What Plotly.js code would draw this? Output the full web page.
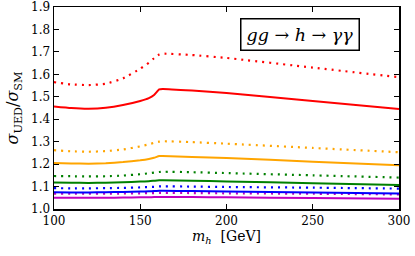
<!DOCTYPE html>
<html><head><meta charset="utf-8">
<script src="https://cdn.plot.ly/plotly-3.0.1.min.js"></script>
<style>html,body{margin:0;padding:0;background:#fff}#c{width:415px;height:256px}</style>
</head><body><div id="c"></div>
<script>
const mh = [100,110,120,130,140,150,155,158,161,163,180,200,250,300];
const redSolid  = [1.457,1.450,1.447,1.451,1.463,1.481,1.494,1.508,1.533,1.535,1.528,1.517,1.481,1.445];
const redDot    = [1.565,1.555,1.552,1.558,1.582,1.625,1.652,1.672,1.688,1.692,1.686,1.673,1.630,1.587];
const orSolid   = [1.205,1.203,1.202,1.204,1.209,1.217,1.223,1.228,1.236,1.236,1.232,1.227,1.211,1.195];
const orDot     = [1.262,1.257,1.255,1.258,1.265,1.279,1.288,1.295,1.300,1.302,1.298,1.291,1.272,1.253];
const grSolid   = [1.118,1.117,1.116,1.117,1.119,1.122,1.124,1.126,1.128,1.128,1.126,1.123,1.115,1.107];
const grDot     = [1.147,1.146,1.145,1.146,1.149,1.155,1.159,1.162,1.165,1.166,1.164,1.160,1.150,1.140];
const blSolid   = [1.075,1.074,1.074,1.075,1.076,1.078,1.079,1.080,1.081,1.081,1.080,1.078,1.074,1.069];
const blDot     = [1.093,1.092,1.092,1.093,1.094,1.096,1.098,1.099,1.101,1.101,1.100,1.098,1.095,1.091];
const pmSolid   = [1.050,1.050,1.050,1.050,1.051,1.052,1.052,1.053,1.053,1.053,1.053,1.052,1.049,1.046];
const pmDot     = [1.068,1.068,1.068,1.068,1.069,1.070,1.071,1.071,1.072,1.072,1.071,1.070,1.068,1.065];
const xTicks = [100,150,200,250,300];
const yTicks = [1.0,1.1,1.2,1.3,1.4,1.5,1.6,1.7,1.8,1.9];

const red='#ff0000', orange='#ffa500', green='#008000', blue='#0000ff', mag='#bf00bf';
const DOT='2px,5px';
function tr(y,c,dot){return {x:mh,y:y,mode:'lines',line:{color:c,width:dot?2.2:2,dash:dot?DOT:'solid',shape:'spline',smoothing:0.4},hoverinfo:'skip'};}
const data=[
 tr(pmSolid,mag,false),tr(pmDot,mag,true),
 tr(blSolid,blue,false),tr(blDot,blue,true),
 tr(grSolid,green,false),tr(grDot,green,true),
 tr(orSolid,orange,false),tr(orDot,orange,true),
 tr(redSolid,red,false),tr(redDot,red,true)
];
const FAM='DejaVu Serif';
const font={family:FAM,size:12,color:'#000'};
const layout={
 width:415,height:256,showlegend:false,
 margin:{l:54,r:16,t:7,b:47,pad:0},
 paper_bgcolor:'#fff',plot_bgcolor:'#fff',font:font,
 xaxis:{range:[100,300],tickvals:xTicks,ticktext:xTicks.map(String),ticks:'inside',ticklen:5,tickwidth:1,tickcolor:'#000',
   showline:true,linecolor:'#000',linewidth:1.5,mirror:'ticks',showgrid:false,zeroline:false,ticklabeloverflow:'allow',
   title:{text:'<i>m<sub>h</sub></i>  [GeV]',font:{family:FAM,size:14},standoff:4},tickfont:font},
 yaxis:{range:[1.0,1.9],tickvals:yTicks,ticktext:yTicks.map(v=>v.toFixed(1)),ticks:'inside',ticklen:5,tickwidth:1,tickcolor:'#000',
   showline:true,linecolor:'#000',linewidth:1.5,mirror:'ticks',showgrid:false,zeroline:false,ticklabeloverflow:'allow',
   title:{text:'<i>σ</i><sub>UED</sub>/<i>σ</i><sub>SM</sub>',font:{family:FAM,size:16},standoff:8},tickfont:font},
 annotations:[{xref:'paper',yref:'paper',x:0.888,y:0.945,xanchor:'right',yanchor:'top',showarrow:false,
   text:'<i>gg</i> → <i>h</i> → <i>γγ</i>',font:{family:FAM,size:17.5,color:'#000'},
   bordercolor:'#000',borderwidth:1.5,borderpad:5,bgcolor:'#fff'}]
};
Plotly.newPlot('c',data,layout,{staticPlot:true,displayModeBar:false});
</script></body></html>
